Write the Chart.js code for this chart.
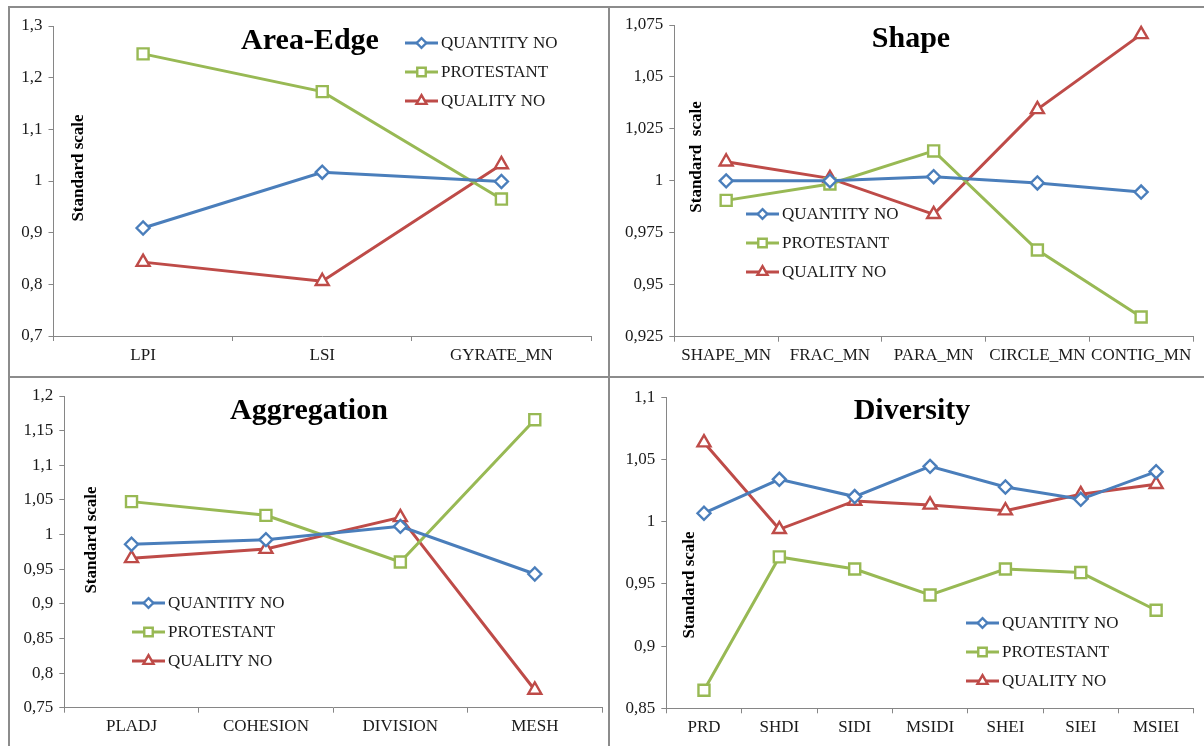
<!DOCTYPE html>
<html><head><meta charset="utf-8">
<script src="https://cdn.jsdelivr.net/npm/chart.js@4.4.0/dist/chart.umd.min.js"></script>
<style>
html,body{margin:0;padding:0;background:#fff;}
#wrap{position:relative;width:1204px;height:746px;overflow:hidden;background:#fff;}
canvas{position:absolute;left:0;top:0;}
.b{position:absolute;background:#8c8c8c;}
</style></head><body>
<div id="wrap">
<div class="b" style="left:8px;top:6px;width:2px;height:740px"></div>
<div class="b" style="left:8px;top:6px;width:1196px;height:2px"></div>
<div class="b" style="left:608px;top:6px;width:2px;height:740px"></div>
<div class="b" style="left:8px;top:376px;width:1196px;height:2px"></div>
<canvas id="c1" width="1204" height="746"></canvas>
<canvas id="c2" width="1204" height="746"></canvas>
<canvas id="c3" width="1204" height="746"></canvas>
<canvas id="c4" width="1204" height="746"></canvas>
</div>
<script>
const seriesNames = ['QUANTITY NO', 'PROTESTANT', 'QUALITY NO'];

const areaCats = ['LPI', 'LSI', 'GYRATE_MN'];
const areaQuantity = [0.909, 1.017, 0.999];
const areaProtestant = [1.246, 1.173, 0.965];
const areaQuality = [0.843, 0.806, 1.032];
const areaTicks = [0.7, 0.8, 0.9, 1, 1.1, 1.2, 1.3];

const shapeCats = ['SHAPE_MN', 'FRAC_MN', 'PARA_MN', 'CIRCLE_MN', 'CONTIG_MN'];
const shapeQuantity = [1.000, 1.000, 1.002, 0.999, 0.9946];
const shapeProtestant = [0.9906, 0.9985, 1.0144, 0.9667, 0.9345];
const shapeQuality = [1.0092, 1.0012, 0.9839, 1.0344, 1.0705];
const shapeTicks = [0.925, 0.95, 0.975, 1, 1.025, 1.05, 1.075];

const aggCats = ['PLADJ', 'COHESION', 'DIVISION', 'MESH'];
const aggQuantity = [0.986, 0.9926, 1.0118, 0.943];
const aggProtestant = [1.0475, 1.0277, 0.9604, 1.1658];
const aggQuality = [0.9656, 0.979, 1.0248, 0.7756];
const aggTicks = [0.75, 0.8, 0.85, 0.9, 0.95, 1, 1.05, 1.1, 1.15, 1.2];

const divCats = ['PRD', 'SHDI', 'SIDI', 'MSIDI', 'SHEI', 'SIEI', 'MSIEI'];
const divQuantity = [1.0068, 1.0341, 1.0202, 1.0445, 1.0279, 1.018, 1.0402];
const divProtestant = [0.8645, 0.9717, 0.962, 0.9411, 0.962, 0.9591, 0.9288];
const divQuality = [1.0636, 0.9939, 1.0167, 1.0135, 1.0089, 1.022, 1.0301];
const divTicks = [0.85, 0.9, 0.95, 1, 1.05, 1.1];

const COLORS = ['#4A7EBB', '#98B954', '#BE4B48'];
const STYLES = ['rectRot', 'rect', 'triangle'];
const RADII = [6.5, 7.8, 7.5];
const LEG_RADII = [4.8, 6, 5.8];
const AXIS = '#868686';
const FONT = '"Liberation Serif", "Times New Roman", serif';
const TXT = '#1a1a1a';

function drawMarker(ctx, style, x, y, r, color) {
  ctx.save();
  ctx.beginPath();
  if (style === 'rectRot') {
    ctx.moveTo(x, y - r); ctx.lineTo(x + r, y); ctx.lineTo(x, y + r); ctx.lineTo(x - r, y);
  } else if (style === 'rect') {
    const s = r * Math.SQRT1_2;
    ctx.rect(x - s, y - s, 2 * s, 2 * s);
  } else {
    for (let k = 0; k < 3; k++) {
      const a = k * 2 * Math.PI / 3;
      const px = x + Math.sin(a) * r, py = y - Math.cos(a) * r;
      if (k === 0) ctx.moveTo(px, py); else ctx.lineTo(px, py);
    }
  }
  ctx.closePath();
  ctx.fillStyle = '#fff';
  ctx.fill();
  ctx.lineWidth = 2.4;
  ctx.strokeStyle = color;
  ctx.stroke();
  ctx.restore();
}

const decor = {
  id: 'decor',
  afterDatasetsDraw(chart, args, o) {
    const ctx = chart.ctx;
    ctx.save();
    ctx.fillStyle = '#000';
    ctx.font = 'bold 30px ' + FONT;
    ctx.textAlign = 'center';
    ctx.textBaseline = 'alphabetic';
    ctx.fillText(o.title, o.tx, o.ty);
    ctx.save();
    ctx.translate(o.yx, o.yy);
    ctx.rotate(-Math.PI / 2);
    ctx.font = 'bold 17px ' + FONT;
    ctx.textAlign = 'center';
    ctx.textBaseline = 'middle';
    ctx.fillText(o.ytitle, 0, 0);
    ctx.restore();
    chart.data.datasets.forEach((ds, i) => {
      const y = o.ly + i * 29;
      ctx.strokeStyle = ds.borderColor;
      ctx.lineWidth = 3;
      ctx.beginPath(); ctx.moveTo(o.lx, y); ctx.lineTo(o.lx + 33, y); ctx.stroke();
      drawMarker(ctx, ds.pointStyle, o.lx + 16.5, y, LEG_RADII[i], ds.borderColor);
      ctx.fillStyle = TXT;
      ctx.font = '17px ' + FONT;
      ctx.textAlign = 'left';
      ctx.textBaseline = 'middle';
      ctx.fillText(ds.label, o.lx + 36, y + 1);
    });
    ctx.restore();
  }
};

function fmt(v) { return String(Number(v.toFixed(4))).replace('.', ','); }

function makeChart(id, cats, series, ticks, area, deco) {
  const YW = Math.min(60, area.l - 2), XH = 30;
  return new Chart(document.getElementById(id), {
    type: 'line',
    data: {
      labels: cats,
      datasets: series.map((vals, i) => ({
        label: seriesNames[i],
        data: vals,
        borderColor: COLORS[i],
        backgroundColor: '#fff',
        borderWidth: 3,
        pointStyle: STYLES[i],
        pointRadius: RADII[i],
        pointBorderWidth: 2.4,
        pointBackgroundColor: '#fff',
        pointBorderColor: COLORS[i],
        tension: 0,
        clip: false
      }))
    },
    options: {
      responsive: false,
      animation: false,
      devicePixelRatio: 1,
      layout: { padding: { left: area.l - YW, top: area.t, right: 1204 - area.r, bottom: 746 - area.b - XH } },
      plugins: { legend: { display: false }, tooltip: { enabled: false }, decor: deco },
      scales: {
        x: {
          type: 'category',
          offset: true,
          grid: { offset: true, drawOnChartArea: false, drawTicks: true, tickLength: 5, color: AXIS },
          border: { color: AXIS, width: 1 },
          ticks: { font: { family: FONT, size: 17 }, color: TXT, padding: 4, maxRotation: 0, autoSkip: false },
          afterFit(s) { s.height = XH; }
        },
        y: {
          min: ticks[0],
          max: ticks[ticks.length - 1],
          afterBuildTicks(s) { s.ticks = ticks.map(v => ({ value: v })); },
          grid: { drawOnChartArea: false, drawTicks: true, tickLength: 5, color: AXIS },
          border: { color: AXIS, width: 1 },
          ticks: { font: { family: FONT, size: 17 }, color: TXT, padding: 6, callback: v => fmt(v) },
          afterFit(s) { s.width = YW; }
        }
      }
    },
    plugins: [decor]
  });
}

makeChart('c1', areaCats, [areaQuantity, areaProtestant, areaQuality], areaTicks,
  { l: 53.5, t: 26, r: 591, b: 336 },
  { title: 'Area-Edge', tx: 310, ty: 49, ytitle: 'Standard scale', yx: 78.5, yy: 168, lx: 405, ly: 43 });
makeChart('c2', shapeCats, [shapeQuantity, shapeProtestant, shapeQuality], shapeTicks,
  { l: 674.3, t: 25, r: 1193, b: 336.7 },
  { title: 'Shape', tx: 911, ty: 47, ytitle: 'Standard  scale', yx: 697, yy: 157, lx: 746, ly: 214 });
makeChart('c3', aggCats, [aggQuantity, aggProtestant, aggQuality], aggTicks,
  { l: 64.3, t: 396, r: 602, b: 707.7 },
  { title: 'Aggregation', tx: 309, ty: 419, ytitle: 'Standard scale', yx: 91.3, yy: 540, lx: 132, ly: 603 });
makeChart('c4', divCats, [divQuantity, divProtestant, divQuality], divTicks,
  { l: 666.3, t: 397.3, r: 1199, b: 708.3 },
  { title: 'Diversity', tx: 912, ty: 419, ytitle: 'Standard scale', yx: 690, yy: 585, lx: 966, ly: 623 });
</script>
</body></html>
